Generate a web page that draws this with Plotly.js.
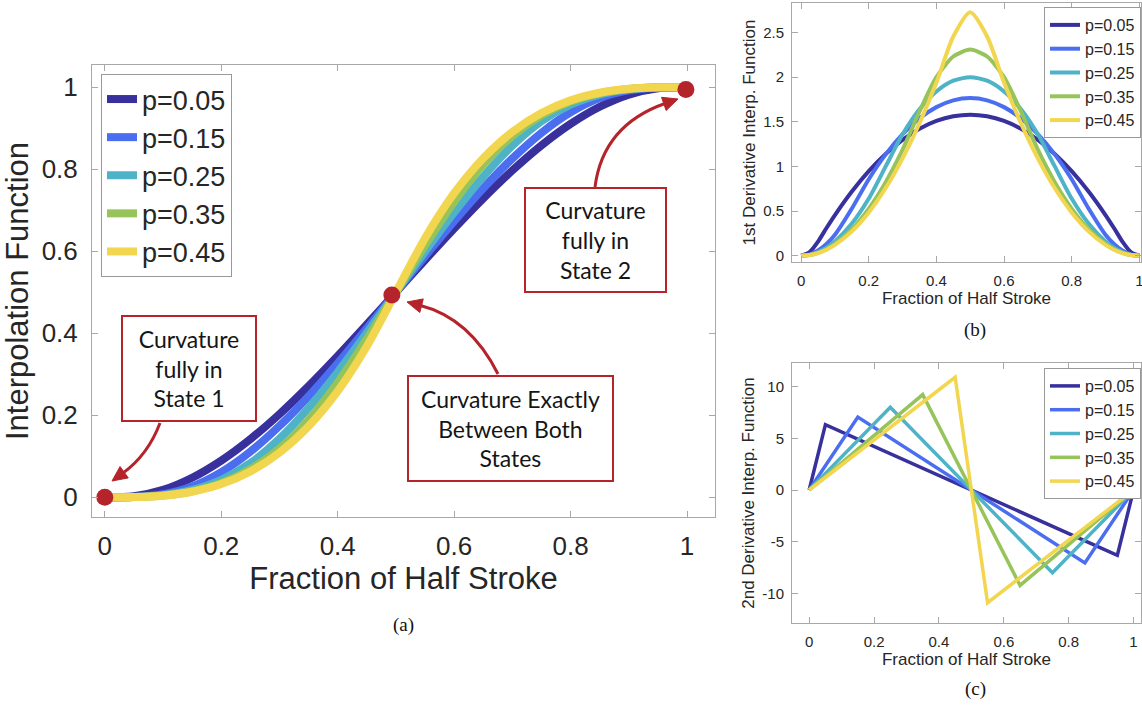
<!DOCTYPE html>
<html>
<head>
<meta charset="utf-8">
<script src="https://cdn.plot.ly/plotly-3.0.1.min.js"></script>
<style>html,body{margin:0;padding:0;background:#fff;}#plot{width:1142px;height:706px;}</style>
</head>
<body>
<div id="plot"></div>
<script>
// ---------------- data ----------------
const labels = ["p=0.05", "p=0.15", "p=0.25", "p=0.35", "p=0.45"];
const colors = ["#37309d", "#4b6ef1", "#4fb3c8", "#96c45a", "#f2d64f"];

const xs = [0, 0.05, 0.1, 0.15, 0.2, 0.25, 0.3, 0.35, 0.4, 0.45, 0.5, 0.55, 0.6, 0.65, 0.7, 0.75, 0.8, 0.85, 0.9, 0.95, 1];

// (a) interpolation function
const fP05 = [0, 0.0026, 0.0181, 0.0477, 0.0895, 0.1418, 0.2029, 0.2711, 0.3445, 0.4214, 0.5, 0.5786, 0.6555, 0.7289, 0.7971, 0.8582, 0.9105, 0.9523, 0.9819, 0.9974, 1];
const fP15 = [0, 0.0010, 0.0078, 0.0265, 0.0613, 0.1113, 0.1740, 0.2466, 0.3269, 0.4122, 0.5, 0.5878, 0.6731, 0.7534, 0.8260, 0.8887, 0.9387, 0.9735, 0.9922, 0.9990, 1];
const fP25 = [0, 0.0007, 0.0053, 0.0180, 0.0427, 0.0833, 0.1427, 0.2180, 0.3053, 0.4007, 0.5, 0.5993, 0.6947, 0.7820, 0.8573, 0.9167, 0.9573, 0.9820, 0.9947, 0.9993, 1];
const fP35 = [0, 0.0005, 0.0044, 0.0148, 0.0352, 0.0687, 0.1187, 0.1885, 0.2795, 0.3859, 0.5, 0.6141, 0.7205, 0.8115, 0.8813, 0.9313, 0.9648, 0.9852, 0.9956, 0.9995, 1];
const fP45 = [0, 0.0005, 0.0040, 0.0136, 0.0323, 0.0631, 0.1091, 0.1732, 0.2586, 0.3682, 0.5, 0.6318, 0.7414, 0.8268, 0.8909, 0.9369, 0.9677, 0.9864, 0.9960, 0.9995, 1];

// (b) 1st derivative
const xb = [0, 0.025, 0.05, 0.075, 0.1, 0.15, 0.2, 0.25, 0.3, 0.35, 0.4, 0.45, 0.5, 0.55, 0.6, 0.65, 0.7, 0.75, 0.8, 0.85, 0.9, 0.925, 0.95, 0.975, 1];
const dP05 = [0, 0.040, 0.158, 0.311, 0.456, 0.719, 0.947, 1.140, 1.298, 1.421, 1.509, 1.561, 1.579, 1.561, 1.509, 1.421, 1.298, 1.140, 0.947, 0.719, 0.456, 0.311, 0.158, 0.040, 0];
const dP15 = [0, 0.015, 0.059, 0.132, 0.235, 0.529, 0.857, 1.135, 1.361, 1.538, 1.664, 1.740, 1.765, 1.740, 1.664, 1.538, 1.361, 1.135, 0.857, 0.529, 0.235, 0.132, 0.059, 0.015, 0];
const dP25 = [0, 0.010, 0.040, 0.090, 0.160, 0.360, 0.640, 1.000, 1.360, 1.640, 1.840, 1.960, 2.000, 1.960, 1.840, 1.640, 1.360, 1.000, 0.640, 0.360, 0.160, 0.090, 0.040, 0.010, 0];
const dP35 = [0, 0.008, 0.033, 0.074, 0.132, 0.297, 0.528, 0.824, 1.187, 1.615, 2.000, 2.231, 2.308, 2.231, 2.000, 1.615, 1.187, 0.824, 0.528, 0.297, 0.132, 0.074, 0.033, 0.008, 0];
const dP45 = [0, 0.008, 0.030, 0.068, 0.121, 0.273, 0.485, 0.758, 1.091, 1.485, 1.939, 2.455, 2.727, 2.455, 1.939, 1.485, 1.091, 0.758, 0.485, 0.273, 0.121, 0.068, 0.030, 0.008, 0];

// (c) 2nd derivative (piecewise linear corners)
const cxP05 = [0, 0.05, 0.95, 1];  const cyP05 = [0, 6.32, -6.32, 0];
const cxP15 = [0, 0.15, 0.85, 1];  const cyP15 = [0, 7.06, -7.06, 0];
const cxP25 = [0, 0.25, 0.75, 1];  const cyP25 = [0, 8.00, -8.00, 0];
const cxP35 = [0, 0.35, 0.65, 1];  const cyP35 = [0, 9.23, -9.23, 0];
const cxP45 = [0, 0.45, 0.55, 1];  const cyP45 = [0, 10.91, -10.91, 0];

// highlighted states in (a)
const stateX = [0, 0.493, 0.998];
const stateY = [0, 0.493, 0.994];

const tickA = [0, 0.2, 0.4, 0.6, 0.8, 1];
const tickAText = ["0", "0.2", "0.4", "0.6", "0.8", "1"];
const tickBY = [0, 0.5, 1, 1.5, 2, 2.5];
const tickBYText = ["0", "0.5", "1", "1.5", "2", "2.5"];
const tickCY = [-10, -5, 0, 5, 10];
const tickCYText = ["-10", "-5", "0", "5", "10"];

// ---------------- helpers ----------------
const W = 1142, H = 706;
const X = px => px / W;
const Y = py => 1 - py / H;
const RED = "#b4242a";
const FONT = "Liberation Sans, Arial, sans-serif";
const TXT = "#262626";
const AXC = "#a8a8a8";

const fSeries = [fP05, fP15, fP25, fP35, fP45];
const dSeries = [dP05, dP15, dP25, dP35, dP45];
const cxSeries = [cxP05, cxP15, cxP25, cxP35, cxP45];
const cySeries = [cyP05, cyP15, cyP25, cyP35, cyP45];

const traces = [];
labels.forEach((lab, i) => {
  traces.push({x: xs, y: fSeries[i], type: "scatter", mode: "lines", name: lab,
    line: {color: colors[i], width: 8, shape: "spline", smoothing: 0.8},
    xaxis: "x", yaxis: "y", legend: "legend"});
});
traces.push({x: stateX, y: stateY, type: "scatter", mode: "markers", showlegend: false,
  marker: {color: RED, size: 17}, xaxis: "x", yaxis: "y", cliponaxis: false});
labels.forEach((lab, i) => {
  traces.push({x: xb, y: dSeries[i], type: "scatter", mode: "lines", name: lab,
    line: {color: colors[i], width: 4, shape: "spline", smoothing: 0.7},
    xaxis: "x2", yaxis: "y2", legend: "legend2"});
});
labels.forEach((lab, i) => {
  traces.push({x: cxSeries[i], y: cySeries[i], type: "scatter", mode: "lines", name: lab,
    line: {color: colors[i], width: 3.5},
    xaxis: "x3", yaxis: "y3", legend: "legend3"});
});

function axis(domain, range, tv, tt, fs, anchor, title, tfs, standoff, tls) {
  return {
    domain: domain, range: range, anchor: anchor,
    tickvals: tv, ticktext: tt, tickfont: {size: fs, color: TXT, family: FONT},
    ticks: "inside", ticklen: 6, tickcolor: AXC, tickwidth: 1,
    showline: true, linecolor: AXC, linewidth: 1, mirror: "ticks",
    showgrid: false, zeroline: false, ticklabelstandoff: tls, ticklabeloverflow: "allow",
    title: {text: title, font: {size: tfs, color: TXT, family: FONT}, standoff: standoff}
  };
}

// curved arrows: quadratic path + triangle head
const shapes = [];
function arrow(s, c, tip) {
  let ux = tip[0] - c[0], uy = tip[1] - c[1];
  const n = Math.hypot(ux, uy); ux /= n; uy /= n;
  const L = 15, hw = 7;
  const bx = tip[0] - L * ux, by = tip[1] - L * uy;
  shapes.push({type: "path", xref: "paper", yref: "paper",
    path: `M ${X(s[0])},${Y(s[1])} Q ${X(c[0])},${Y(c[1])} ${X(bx + 2*ux)},${Y(by + 2*uy)}`,
    line: {color: RED, width: 3}});
  const p1 = [bx - hw * uy, by + hw * ux], p2 = [bx + hw * uy, by - hw * ux];
  shapes.push({type: "path", xref: "paper", yref: "paper",
    path: `M ${X(tip[0])},${Y(tip[1])} L ${X(p1[0])},${Y(p1[1])} L ${X(p2[0])},${Y(p2[1])} Z`,
    fillcolor: RED, line: {color: RED, width: 1}});
}
arrow([160, 423], [148, 455], [112, 481]);
arrow([595, 187], [603, 125], [678, 99]);
arrow([498, 374], [470, 318], [407, 302]);

function box(text, cx, cy, w, h) {
  return {xref: "paper", yref: "paper", x: X(cx), y: Y(cy), xanchor: "center", yanchor: "middle",
    text: text, showarrow: false, align: "center", valign: "middle",
    width: w, height: h, bgcolor: "#ffffff", bordercolor: RED, borderwidth: 2, borderpad: 2,
    font: {family: "Lato, Carlito, sans-serif", size: 23, color: "#151515"}};
}
function caption(text, cx, cy) {
  return {xref: "paper", yref: "paper", x: X(cx), y: Y(cy), xanchor: "center", yanchor: "middle",
    text: text, showarrow: false, font: {family: "Liberation Serif, Times New Roman, serif", size: 19, color: "#111"}};
}

const layout = {
  width: W, height: H, margin: {l: 0, r: 0, t: 0, b: 0},
  paper_bgcolor: "#ffffff", plot_bgcolor: "#ffffff",
  font: {family: FONT, color: TXT},
  xaxis: axis([X(92), X(715)], [-0.022, 1.048], tickA, tickAText, 26, "y", "Fraction of Half Stroke", 31, 7, 6),
  yaxis: axis([Y(517), Y(65)], [-0.048, 1.054], tickA, tickAText, 26, "x", "Interpolation Function", 31, 5, 8),
  xaxis2: axis([X(792), X(1141)], [-0.027, 1.005], tickA, tickAText, 15, "y2", "Fraction of Half Stroke", 17, 4, 5),
  yaxis2: axis([Y(262), Y(3)], [-0.07, 2.83], tickBY, tickBYText, 15, "x2", "1st Derivative Interp. Function", 17, 3, 4),
  xaxis3: axis([X(792), X(1141)], [-0.053, 1.023], tickA, tickAText, 15, "y3", "Fraction of Half Stroke", 17, 3, 5),
  yaxis3: axis([Y(623), Y(363)], [-12.87, 12.29], tickCY, tickCYText, 15, "x3", "2nd Derivative Interp. Function", 17, 3, 4),
  legend: {x: X(101), y: Y(74), xanchor: "left", yanchor: "top", bgcolor: "#ffffff",
    bordercolor: "#999999", borderwidth: 1, font: {size: 27, color: TXT, family: FONT}, tracegroupgap: 0, itemwidth: 30},
  legend2: {x: X(1141), y: Y(7), xanchor: "right", yanchor: "top", bgcolor: "#ffffff",
    bordercolor: "#999999", borderwidth: 1, font: {size: 16, color: TXT, family: FONT}, tracegroupgap: 0, itemwidth: 30},
  legend3: {x: X(1141), y: Y(368), xanchor: "right", yanchor: "top", bgcolor: "#ffffff",
    bordercolor: "#999999", borderwidth: 1, font: {size: 16, color: TXT, family: FONT}, tracegroupgap: 0, itemwidth: 30},
  shapes: shapes,
  annotations: [
    box("Curvature<br>fully in<br>State 1", 189, 368.5, 128, 99),
    box("Curvature<br>fully in<br>State 2", 595.5, 240, 135, 98),
    box("Curvature Exactly<br>Between Both<br>States", 510.5, 428.5, 199, 99),
    caption("(a)", 403, 625),
    caption("(b)", 975, 330),
    caption("(c)", 975, 689)
  ]
};

Plotly.newPlot("plot", traces, layout, {displayModeBar: false, staticPlot: true});
</script>
</body>
</html>
